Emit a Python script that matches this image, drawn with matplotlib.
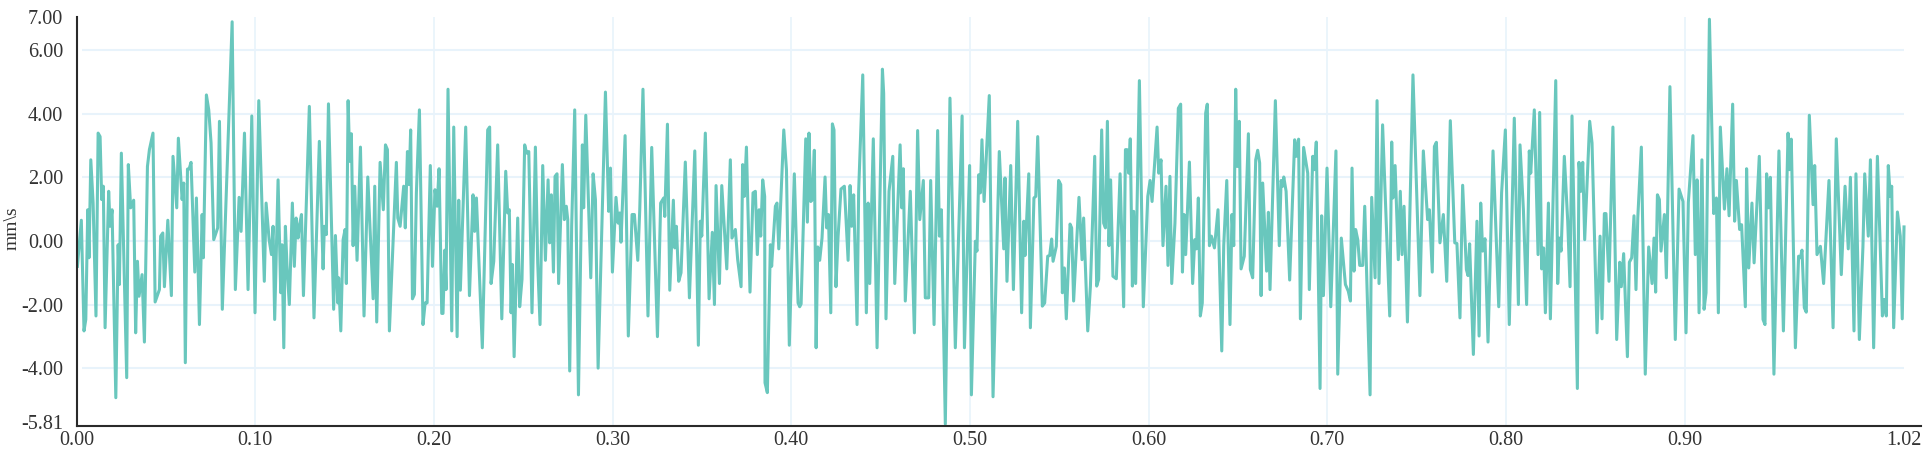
import numpy as np
import matplotlib
matplotlib.use('Agg')
import matplotlib.pyplot as plt
from matplotlib.transforms import ScaledTranslation

plt.rcParams['font.family'] = ['Liberation Serif', 'DejaVu Serif']

# 速度波形，按 8 段从图上读出 (time s, velocity mm/s)
t1 = [.0000, .0022, .0037, .0047, .0058, .0065, .0075, .0088, .0104, .0116, .0127, .0136, .0145, .0155, .0175, .0183,
      .0194, .0215, .0228, .0235, .0246, .0276, .0285, .0298, .0315, .0326, .0336, .0345, .0362, .0375, .0392, .0403,
      .0423, .0435, .0459, .0466, .0478, .0487, .0506, .0526, .0535, .0556, .0565, .0586, .0595, .0604, .0616, .0625,
      .0636, .0657, .0666, .0683, .0698, .0705, .0722, .0735, .0748, .0763, .0785, .0795, .0811, .0866, .0884, .0905,
      .0916, .0935, .0955, .0976, .0994, .1015, .1046, .1056, .1073, .1086, .1095, .1104, .1123, .1138, .1145, .1155,
      .1164, .1173, .1186, .1203, .1214, .1224, .1235, .1242, .1254, .1265, .1298]
v1 = [-.80, .65, -2.83, -2.47, .98, -.53, 2.55, 1.19, -2.36, 3.39, 3.28, 1.30, 1.72, -2.73, 1.56, .46,
      .98, -4.93, -.12, -1.37, 2.76, -4.30, 2.40, 1.04, 1.28, -2.89, -.64, -1.74, -1.06, -3.18, 2.34, 2.87,
      3.39, -1.92, -1.53, .15, .25, -1.44, .65, -1.72, 2.66, 1.04, 3.23, 1.30, 1.82, -3.83, 2.26, 2.26,
      2.47, -.98, 1.35, -2.63, .83, -.53, 4.59, 4.12, 3.08, .04, .41, 3.76, -2.15, 6.89, -1.53, 1.37,
      .30, 3.39, -1.53, 3.93, -2.26, 4.41, -1.27, 1.19, .04, -.43, .46, -2.47, 1.92, -1.63, -.12, -3.36,
      .46, -.80, -2.00, 1.19, -.80, .72, .09, .46, .83, -1.72, 4.23]

t2 = [.1324, .1354, .1375, .1382, .1393, .1405, .1434, .1444, .1457, .1462, .1474, .1487, .1498, .1505, .1515, .1524,
      .1533, .1543, .1552, .1565, .1584, .1604, .1625, .1655, .1664, .1675, .1694, .1712, .1724, .1735, .1746, .1785,
      .1793, .1806, .1826, .1835, .1847, .1856, .1865, .1875, .1886, .1897, .1914, .1934, .1946, .1957, .1975, .1987,
      .2001, .2013, .2024, .2039, .2046, .2056, .2063, .2074, .2095, .2106, .2125, .2134, .2143, .2173, .2194, .2214,
      .2223, .2233, .2266, .2296, .2307, .2315, .2330, .2352, .2375, .2397, .2408, .2417, .2427, .2434, .2444, .2464,
      .2475, .2488, .2503, .2514, .2526, .2544, .2563, .2576, .2589]
v2 = [-2.42, 3.13, -.88, .46, .20, 4.31, -2.15, .17, -1.95, -1.16, -2.83, .04, .36, -1.34, 4.41, 2.50,
      3.37, -.15, 1.72, -.61, 2.95, -2.36, 2.01, -1.82, 1.72, -2.55, 2.47, .98, 3.02, 2.87, -2.83, 2.47,
      .72, .46, 1.72, .41, 2.81, 1.77, 3.49, -1.82, -1.68, 1.51, 4.12, -2.63, -1.95, -1.95, 2.37, -.80,
      1.61, 1.09, 2.27, -2.28, -2.28, -.29, -1.53, 4.77, -2.83, 3.58, -3.01, 1.28, -1.55, 3.58, -1.72, 1.45,
      .30, 1.35, -3.36, 3.49, 3.58, -1.34, -.64, 3.02, -2.45, 2.19, .88, .98, -2.26, -.74, -3.64, .72,
      -2.07, -1.21, 3.02, 2.76, 2.81, -2.26, 2.95, -.69, -2.63]

t3 = [.2604, .2619, .2634, .2643, .2652, .2664, .2673, .2684, .2693, .2714, .2725, .2736, .2744, .2755, .2766, .2783,
      .2804, .2826, .2833, .2845, .2873, .2886, .2899, .2914, .2936, .2955, .2973, .2983, .2994, .3014, .3026, .3035,
      .3042, .3065, .3083, .3104, .3117, .3136, .3147, .3165, .3193, .3214, .3246, .3264, .3281, .3287, .3302, .3315,
      .3335, .3343, .3352, .3365, .3378, .3402, .3425, .3455, .3475, .3486, .3494, .3514, .3535, .3553, .3565, .3574,
      .3593, .3606, .3634, .3654, .3663, .3682, .3695, .3714, .3723, .3732, .3744, .3764, .3781, .3794, .3805, .3815,
      .3824, .3835, .3846, .3848, .3861]
v3 = [2.37, -.61, 1.92, -.06, 1.45, -.98, 2.03, 2.11, -1.34, 2.40, .67, 1.09, .67, -4.09, .46, 4.12,
      -4.84, 3.02, 1.04, 3.95, -1.16, 2.11, 1.30, -4.00, .67, 4.68, .93, 2.29, -.98, 1.37, .56, .88,
      -.04, 3.31, -2.99, .83, .83, -.61, .98, 4.77, -2.36, 2.94, -3.01, 1.19, 1.35, .77, 3.67, -1.55,
      1.28, -.22, .46, -1.27, -1.00, 2.48, -1.79, 2.83, -3.28, .62, .15, 3.39, -1.82, .27, -2.00, 1.74,
      -1.34, 1.74, -.88, 2.55, .09, .36, -.59, -1.44, 2.40, 1.40, 2.95, -1.61, 1.51, 1.56, -.43, .98,
      .15, 1.92, 1.40, -4.46, -4.77]

t4 = [.3878, .3885, .3906, .3915, .3925, .3953, .3968, .3984, .4012, .4033, .4042, .4050, .4076, .4085, .4094, .4104,
      .4113, .4124, .4134, .4143, .4154, .4167, .4184, .4193, .4203, .4216, .4225, .4234, .4245, .4257, .4273, .4292,
      .4313, .4324, .4333, .4344, .4363, .4372, .4395, .4415, .4425, .4434, .4454, .4475, .4505, .4512, .4525, .4542,
      .4563, .4574, .4604, .4613, .4622, .4633, .4661, .4684, .4702, .4714, .4734, .4745, .4764, .4775, .4794, .4814,
      .4824, .4835, .4857, .4883, .4913, .4951, .4964, .4993, .5003, .5025, .5034, .5044, .5053, .5062, .5074, .5103,
      .5124, .5159]
v4 = [-.12, -.80, 1.09, 1.19, -.25, 3.49, 2.24, -3.28, 2.11, -1.95, -2.07, -1.98, 3.21, .59, 3.39, 1.24,
      1.30, 2.85, -3.36, -.19, -.61, .09, 2.01, .41, .83, -2.26, 3.68, 3.49, -1.44, .15, 1.63, 1.72,
      -.61, 1.74, .46, 1.45, -2.63, 1.56, 5.22, -2.26, 1.19, -1.34, 3.21, -3.36, 5.40, 4.64, -2.45, 1.56,
      2.66, -1.34, 3.02, 1.04, 2.27, -1.89, 1.56, -2.89, 3.47, .67, 1.90, -1.79, -1.79, 1.90, -2.63, 3.47,
      .15, .98, -5.76, 4.49, -3.36, 3.93, -3.36, 2.37, -4.84, -.01, -.32, 2.08, 1.51, 3.18, 1.24, 4.57,
      -4.90, 2.81]

t5 = [.5184, .5191, .5202, .5223, .5238, .5262, .5284, .5296, .5303, .5324, .5333, .5353, .5363, .5374, .5400, .5413,
      .5430, .5441, .5452, .5460, .5478, .5491, .5503, .5512, .5523, .5534, .5555, .5564, .5575, .5605, .5622, .5631,
      .5654, .5669, .5693, .5704, .5715, .5732, .5743, .5753, .5764, .5773, .5782, .5795, .5814, .5835, .5855, .5865,
      .5874, .5883, .5892, .5904, .5911, .5922, .5943, .5965, .5990, .6003, .6014, .6042, .6051, .6064, .6075, .6092,
      .6103, .6114, .6124, .6142, .6161, .6174, .6184, .6193, .6202, .6223, .6241, .6253, .6262, .6273, .6284, .6295,
      .6314, .6323, .6335, .6346, .6363, .6383, .6404, .6415, .6432, .6450]
v5 = [-.25, 1.98, -1.27, 2.37, -1.53, 3.76, -2.26, .62, -.46, 2.11, -2.73, 1.35, 1.40, 3.28, -2.05, -1.95,
      -.48, -.46, .06, -.64, -.17, 1.90, 1.77, -1.63, -.85, -2.45, .53, .41, -1.89, 1.37, -.59, .72,
      -2.83, -1.42, 2.66, -1.42, -1.21, 3.49, .56, .41, 3.76, -.15, 1.92, -1.11, -1.19, 2.11, -2.07, 2.87,
      2.87, 2.13, 3.21, -1.42, .93, -1.34, 5.04, -2.07, 1.40, 1.90, 1.24, 3.58, 2.13, 2.55, -.15, 1.72,
      -.77, 2.03, -1.34, .56, 4.17, 4.30, -.98, .83, -.43, 2.48, -1.34, .04, -.25, 1.35, -2.36, -1.95,
      4.02, 4.30, -.15, .15, -.22, .98, -3.46, -.15, 1.90, -2.63]

t6 = [.6461, .6471, .6482, .6491, .6502, .6512, .6530, .6553, .6564, .6577, .6594, .6605, .6616, .6624, .6633, .6655,
      .6665, .6674, .6704, .6726, .6736, .6745, .6751, .6764, .6784, .6812, .6821, .6834, .6844, .6862, .6885, .6894,
      .6913, .6922, .6933, .6954, .6963, .6973, .6993, .7014, .7043, .7053, .7073, .7096, .7112, .7124, .7133, .7144,
      .7153, .7165, .7176, .7193, .7204, .7234, .7243, .7262, .7273, .7284, .7304, .7344, .7355, .7362, .7374, .7392,
      .7403, .7413, .7424, .7443, .7474, .7513, .7532, .7556, .7566, .7582, .7594, .7605, .7625, .7644, .7663, .7683,
      .7708, .7720, .7737]
v6 = [.83, -.15, 4.77, 2.34, 3.76, -.88, -.48, 3.37, -.90, -1.16, 2.55, 2.85, 2.45, -1.72, 1.82, -.95,
      .90, -1.53, 4.41, -.15, 1.90, 1.72, 2.01, 1.56, -1.23, 3.18, 2.66, 3.20, -2.45, 2.94, 2.13, -1.53,
      2.66, 2.24, 3.11, -4.64, .79, -1.72, 2.29, -2.07, 2.83, -4.19, .09, -1.37, -1.58, -1.89, 2.29, -.95,
      .36, .04, -.77, -.77, 1.09, -4.84, 1.37, -1.16, 4.41, -1.34, 3.65, -2.36, 3.11, 1.35, 2.37, -.59,
      1.56, -.43, 1.09, -2.55, 5.22, -1.72, 2.83, .67, .98, -.98, 2.97, 3.10, -.06, .83, -1.27, 3.78,
      -.06, -.08, -2.42]

t7 = [.7752, .7773, .7782, .7791, .7812, .7832, .7844, .7853, .7864, .7877, .7894, .7922, .7954, .7970, .7991, .8013,
      .8041, .8064, .8073, .8092, .8110, .8125, .8133, .8153, .8174, .8183, .8194, .8205, .8215, .8232, .8243, .8273,
      .8284, .8293, .8303, .8321, .8340, .8353, .8364, .8394, .8403, .8414, .8424, .8435, .8463, .8476, .8504, .8521,
      .8532, .8545, .8554, .8571, .8593, .8614, .8631, .8640, .8653, .8674, .8685, .8698, .8711, .8722, .8732, .8752,
      .8774, .8793, .8812, .8823, .8832, .8842, .8853, .8862, .8881, .8892, .8912, .8942, .8963]
v7 = [1.75, -.90, -1.09, -.09, -3.57, .62, -2.99, 1.19, -.32, .07, -3.18, 2.83, -2.07, 1.51, 3.49, -2.63,
      3.86, -2.00, 3.02, .98, -2.00, 2.83, 2.13, 4.12, -.43, 4.04, -.88, -.22, -2.26, 1.19, -2.45, 5.04,
      -1.34, .09, -.32, 2.66, .62, -1.44, 3.93, -4.64, 2.47, 1.56, 2.47, .04, 3.76, 3.08, -2.89, .15,
      -2.45, .86, .86, -1.27, 3.58, -3.10, -.67, -1.44, -.40, -3.64, -.67, -.53, .79, -1.53, .72, 2.95,
      -4.19, -.19, -1.34, .09, -1.61, 1.45, 1.30, -.32, .83, -1.16, 4.85, -3.10, 1.63]

t8 = [.8985, .9002, .9015, .9041, .9054, .9064, .9075, .9091, .9103, .9114, .9133, .9157, .9172, .9183, .9194, .9217,
      .9231, .9243, .9263, .9274, .9284, .9302, .9313, .9334, .9341, .9353, .9371, .9383, .9412, .9433, .9444, .9453,
      .9463, .9474, .9494, .9522, .9547, .9573, .9582, .9591, .9614, .9632, .9642, .9651, .9664, .9675, .9692, .9713,
      .9722, .9735, .9754, .9772, .9802, .9825, .9843, .9871, .9892, .9910, .9922, .9942, .9953, .9972, .9992, 1.0002,
      1.0022, 1.0034, 1.0052, 1.0073, 1.0101, 1.0112, 1.0123, 1.0134, 1.0145, 1.0153, 1.0164, 1.0185, 1.0201, 1.0212, 1.0222]
v8 = [1.24, -2.89, 1.21, 3.31, -.43, 1.92, -2.26, 2.55, -2.15, -1.63, 6.97, .86, 1.35, -2.26, 3.58, 1.00,
      2.27, .79, 4.30, .62, 1.90, .36, .51, -2.07, 2.27, -.85, 1.19, -.69, 2.66, -2.47, -2.63, 2.11,
      1.04, 2.00, -4.19, 2.83, -2.83, 3.39, 2.24, 3.20, -3.36, -.48, -.53, -.29, -2.10, -2.24, 3.95, 1.14,
      2.37, -.43, -.17, -1.34, 1.90, -2.73, 3.21, -1.06, 1.72, -.25, 2.00, -2.83, 2.11, -3.10, -.19, 2.11,
      .15, 2.55, -3.36, 2.66, -2.36, -1.84, -2.36, 2.37, 1.40, 1.72, -2.73, .91, .15, -2.45, .44]

# 读数时的零点比坐标轴偏了约 1 px
time_s = np.concatenate([t1, t2, t3, t4, t5, t6, t7, t8]) + 0.0005
velocity = np.concatenate([v1, v2, v3, v4, v5, v6, v7, v8])

x_ticks = [0.0, 0.1, 0.2, 0.3, 0.4, 0.5, 0.6, 0.7, 0.8, 0.9, 1.0225]
x_labels = ['0.00', '0.10', '0.20', '0.30', '0.40', '0.50', '0.60', '0.70', '0.80', '0.90', '1.02']
y_ticks = [-5.81, -4, -2, 0, 2, 4, 6, 7.03]
y_labels = ['-5.81', '-4.00', '-2.00', '0.00', '2.00', '4.00', '6.00', '7.00']

W, H = 1925, 451
fig = plt.figure(figsize=(W / 100, H / 100), dpi=100)
ax = fig.add_axes([76.5 / W, 1 - 425.7 / H, (1921 - 76.5) / W, (425.7 - 16.7) / H])
ax.set_xlim(0, 1.0322)
ax.set_ylim(-5.81, 7.05)

grid_color = '#e8f3fb'
ax.hlines(y_ticks[1:-1], 0.003, 1.0225, color=grid_color, lw=1.5, zorder=1)
ax.vlines(x_ticks[1:-1], -5.81, 7.05, color=grid_color, lw=1.2, zorder=1)

ax.plot(time_s, velocity, color='#69c7bd', lw=2.2, solid_joinstyle='round', zorder=2)

for side in ['top', 'right']:
    ax.spines[side].set_visible(False)
for side in ['left', 'bottom']:
    ax.spines[side].set_linewidth(1.5)
    ax.spines[side].set_color('#2a2a2a')

ax.set_xticks(x_ticks, x_labels)
ax.set_yticks(y_ticks, y_labels)
ax.tick_params(length=0, labelsize=14.5, labelcolor='#333333')
ax.tick_params(axis='x', pad=4)
ax.tick_params(axis='y', pad=9.7)

# 最下面的 -5.81 比刻度略高
low_label = ax.get_yticklabels()[0]
low_label.set_transform(low_label.get_transform() + ScaledTranslation(0, 4 / 100, fig.dpi_scale_trans))

fig.text(12.5 / W, 1 - 228 / H, 'mm\\s', rotation=90, ha='center', va='center', fontsize=14, color='#333333')

plt.savefig('out.png', dpi=100)
plt.close(fig)
